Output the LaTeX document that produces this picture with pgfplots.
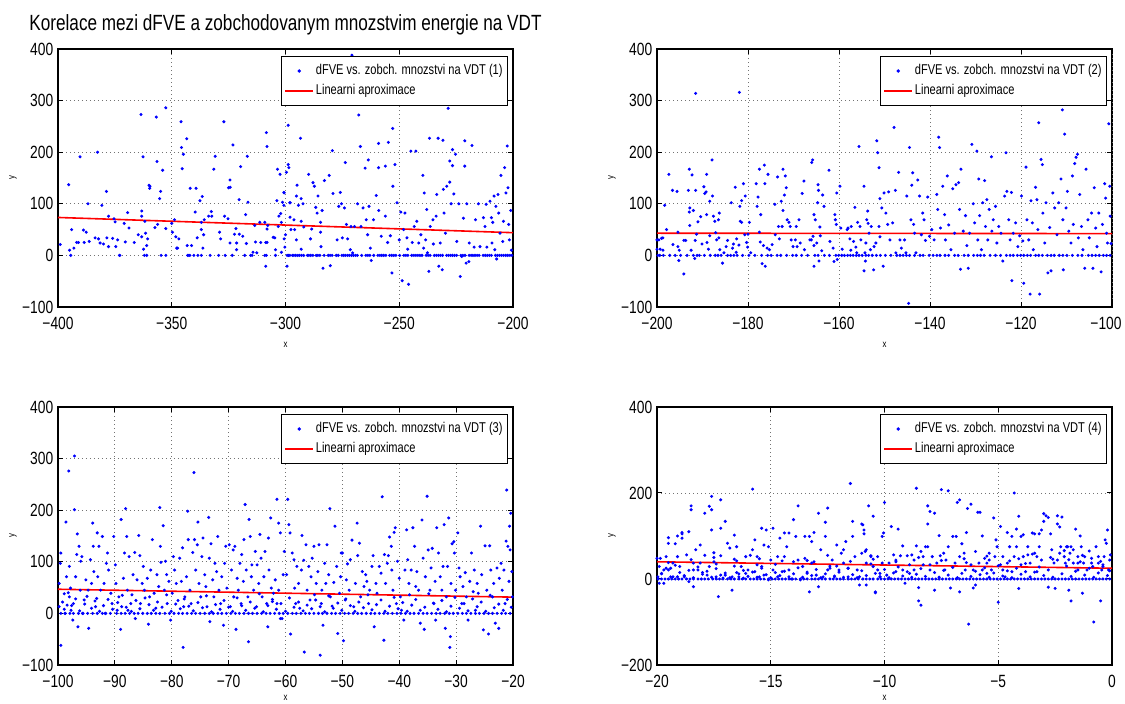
\documentclass[border=0pt]{standalone}
\usepackage{fontspec}
\setmainfont{Liberation Sans}[FakeStretch=0.78]
\usepackage{pgfplots}
\pgfplotsset{compat=1.18}

\pgfplotsset{
  every axis title shift=0pt,
  panel/.style={
    scale only axis, width=227.5pt, height=129pt,
    axis line style={line width=0.7pt},
    tick align=inside, major tick length=2.5pt,
    tick style={black, line width=0.5pt},
    grid=major,
    major grid style={black!55, line width=0.4pt, dash pattern=on 0.4pt off 1.6pt},
    ticklabel style={font=\fontsize{8.85}{10}\selectfont},
    xticklabel style={inner sep=0pt, anchor=north, yshift=-4.8pt},
    yticklabel style={inner sep=0pt, anchor=east, xshift=-2.2pt},
    label style={font=\fontsize{5}{6}\selectfont},
    xlabel={x}, ylabel={y},
    xlabel style={at={(rel axis cs:0.5,-0.147)}, anchor=center},
    ylabel style={at={(rel axis cs:-0.099,0.5)}, anchor=center},
    legend style={at={(0.989,0.973)}, anchor=north east, draw=black,
      line width=0.6pt, font=\fontsize{7.1}{8}\selectfont,
      inner xsep=1.5pt, inner ysep=3pt, row sep=1.6pt,
      nodes={inner sep=0.9pt}},
    legend cell align=left,
    legend image code/.code={\draw[mark repeat=2,mark phase=2,#1]
      plot coordinates {(0pt,0pt) (7pt,0pt) (14pt,0pt)};},
  },
  dots/.style={only marks, mark=*, mark size=0.55pt, color=blue},
  fitline/.style={color=red, line width=0.8pt, no marks},
}

\begin{document}
\begin{tikzpicture}
\path[use as bounding box] (0,0) rectangle (562.5pt,352pt);

% ---------- panel 1 ----------
\begin{axis}[panel, at={(29pt,198.5pt)}, anchor=south west,
  xmin=-400, xmax=-200, ymin=-100, ymax=400,
  xtick={-400,-350,-300,-250,-200}, xticklabels={−400,−350,−300,−250,−200},
  ytick={-100,0,100,200,300,400}, yticklabels={−100,0,100,200,300,400},
  title={Korelace mezi dFVE a zobchodovanym mnozstvim energie na VDT},
  title style={at={(0.5,1)}, anchor=base, yshift=9pt, inner sep=0pt,
    font=\fontsize{11}{13}\selectfont}]
\addplot[dots] coordinates {
(-399,21) (-395.3,137) (-394.9,10) (-394.4,0) (-394,50) (-393,14) (-391.8,25) (-391,25)
(-390.3,191) (-388.8,49) (-388.5,25) (-387.6,45) (-386.8,100) (-386.3,27) (-383.7,34)
(-382.6,200) (-382.2,32) (-381.5,24) (-380.7,97) (-380,22) (-378.7,124) (-378.5,34)
(-377.8,76) (-377.8,17) (-376,33) (-375.4,71) (-374.9,65) (-374.6,17) (-373.8,30)
(-373,0) (-372.8,0) (-370.9,62) (-370.4,26) (-369.4,83) (-368.8,53) (-366.5,25)
(-364.7,40) (-363.5,273) (-363.2,86) (-363.2,76) (-363.2,36) (-362.6,191) (-362.4,12)
(-362,0) (-361,0) (-361.8,66) (-361.5,43) (-361,19) (-360.6,32) (-360,136) (-359.7,130)
(-359.6,134) (-356.8,268) (-356.5,182) (-356.2,60) (-355.3,110) (-354.9,124) (-354.7,0)
(-354,165) (-357.4,54) (-352.6,286) (-352.6,52) (-352.6,0) (-350,62) (-349.7,45)
(-348.8,69) (-348.2,36) (-347.8,14) (-347.4,14) (-346.9,32) (-345.9,259) (-345.7,209)
(-345.4,168) (-344.9,196) (-343.4,226) (-343.2,19) (-343,0) (-342.5,0) (-342,0)
(-341.9,130) (-341.3,19) (-340.3,0) (-339.7,84) (-339.3,130) (-338.8,34) (-338.5,0)
(-337.6,106) (-337,50) (-337,64) (-336.6,114) (-336.3,14) (-336,40) (-335.7,69) (-337,0)
(-333.8,76) (-333.1,0) (-332.6,85) (-332.4,76) (-331.5,167) (-330.9,192) (-329,45)
(-328.5,32) (-329.4,0) (-327.1,259) (-326.8,76) (-326.5,0) (-325.3,71) (-325,131)
(-324.4,146) (-324.3,132) (-324.4,24) (-323.4,0) (-323.1,214) (-322.4,41) (-321.8,52)
(-321.5,11) (-321.5,24) (-320.4,108) (-320.3,41) (-319.7,172) (-318.8,37) (-317.9,0)
(-317.5,79) (-317.2,23) (-316.8,192) (-316.5,103) (-315.3,0) (-314.7,0) (-314.3,6)
(-313.5,58) (-313.2,26) (-312.6,5) (-311.3,64) (-310.9,25) (-309.1,64) (-308.7,25)
(-308.1,25) (-308.4,238) (-308.1,211) (-308.4,0) (-309.1,0) (-308.7,-21) (-308.1,51)
(-307.8,58) (-305.4,35) (-304.7,34) (-304.4,11) (-304.4,0) (-303.8,106) (-303.5,167)
(-303.2,56) (-302.9,76) (-302.4,157) (-302.1,81) (-301.8,64) (-301.3,103) (-300.7,97)
(-300.6,121) (-301.8,6) (-300.6,32) (-300.3,16) (-299.6,161) (-299.3,0) (-298.7,0)
(-298.1,0) (-299.3,-21) (-298.8,176) (-298.5,170) (-298.8,252) (-297.9,102) (-298,74)
(-297.6,50) (-300.7,122) (-300,40) (-298.1,102) (-296.3,69) (-296,50) (-295.2,30)
(-295.2,115) (-294.3,97) (-293.4,227) (-293.1,110) (-293.1,66) (-293.1,12) (-294.9,136)
(-292.3,100) (-292,55) (-289.8,157) (-289,32) (-288.5,51) (-287.9,141) (-287.3,134)
(-286.7,93) (-286.1,82) (-285.7,115) (-284.4,17) (-284.6,45) (-284.6,64) (-283.9,87)
(-283.5,-25) (-282.9,145) (-280.8,155) (-280.3,-20) (-279.4,203) (-279.1,120) (-277.3,30)
(-276.6,95) (-275.9,122) (-275.4,100) (-275,34) (-273.7,180) (-274.1,92) (-273.2,60)
(-272.7,32) (-271.5,11) (-270.8,388) (-271.2,56) (-270.5,5) (-269.7,56) (-267.8,272)
(-268.3,100) (-267.1,211) (-266.8,56) (-265.9,92) (-265,169) (-264.5,69) (-263.9,40)
(-263.6,185) (-263.3,95) (-262.7,14) (-262.3,-10) (-261.3,69) (-260.1,116) (-259.1,217)
(-259.1,170) (-259,87) (-257.9,37) (-256.1,173) (-256.1,76) (-255.1,25) (-254.8,219)
(-253.9,38) (-253.2,-34) (-252.9,246) (-252.8,134) (-251.9,176) (-251,102) (-250,30)
(-249.3,84) (-248.7,-49) (-248.1,50) (-247.5,82) (-246.6,34) (-246.3,12) (-245.9,-56)
(-244.9,202) (-244.3,25) (-243.4,56) (-242.7,202) (-242.3,66) (-241.4,24) (-240.5,40)
(-239.6,155) (-239.3,14) (-239,121) (-238.4,30) (-237.9,89) (-237.6,5) (-237,-31)
(-236.7,227) (-236.4,56) (-235.2,69) (-235,22) (-233.8,76) (-233.5,118) (-232.9,227)
(-232.6,-21) (-232,24) (-231.1,-28) (-230.8,223) (-230.6,128) (-230.3,82) (-229.7,43)
(-229.1,134) (-228.5,285) (-227.8,142) (-227.8,183) (-227.2,100) (-226.6,205) (-226.6,174)
(-226,119) (-225.3,196) (-224.7,27) (-223.8,100) (-223.2,-41) (-222.5,-2) (-221.8,72)
(-221.2,173) (-221.2,222) (-220.6,-15) (-220.3,100) (-219.4,-12) (-219.2,24) (-218,213)
(-217.1,16) (-216.5,69) (-215.2,100) (-214.5,17) (-213,73) (-211.8,99) (-212.3,56)
(-211.5,16) (-210.1,105) (-209.5,73) (-209.2,24) (-208.9,64) (-208.3,115) (-208,11)
(-207.5,95) (-207.2,-7) (-206.6,118) (-206.3,82) (-205.7,43) (-205.3,155) (-204.5,27)
(-204.2,66) (-203.7,170) (-203.1,121) (-202.5,212) (-202.2,131) (-201.9,60) (-201.6,30)
(-201,87) (-200.7,10)
(-297,0) (-296.3,0) (-295.5,0) (-294.6,0) (-293.8,0) (-292.9,0) (-292,0) (-290.4,0)
(-289.7,0) (-288.9,0) (-288,0) (-286.5,0) (-285.8,0) (-284.9,0) (-283,0) (-281.2,0)
(-280.4,0) (-279.5,0) (-277.7,0) (-276.8,0) (-275.2,0) (-274.4,0) (-273.6,0) (-272.7,0)
(-271.9,0) (-271,0) (-270.1,0) (-269.2,0) (-268.4,0) (-266.5,0) (-264.7,0) (-263.8,0)
(-262.9,0) (-261.2,0) (-259.4,0) (-258.5,0) (-257.7,0) (-256.8,0) (-255.9,0) (-254.2,0)
(-253.3,0) (-252.4,0) (-251.5,0) (-249.8,0) (-248,0) (-247.1,0) (-246.2,0) (-244.5,0)
(-243.6,0) (-242.7,0) (-241.8,0) (-240.9,0) (-240,0) (-238.2,0) (-237.3,0) (-236.4,0)
(-234.6,0) (-233.7,0) (-232.8,0) (-231.9,0) (-231,0) (-229.2,0) (-228.3,0) (-227.4,0)
(-226.6,0) (-225.7,0) (-224.8,0) (-222.9,0) (-222,0) (-221.1,0) (-219.3,0) (-218.4,0)
(-217.6,0) (-216.7,0) (-215.8,0) (-214.9,0) (-213.1,0) (-212.2,0) (-211.3,0) (-210.4,0)
(-209.5,0) (-207.7,0) (-206.8,0) (-205.9,0) (-205,0) (-204.1,0) (-203.2,0) (-202.3,0)
(-201.4,0) (-200.5,0)
};
\addplot[fitline] coordinates {(-400,73.5) (-200,44)};
\legend{dFVE vs. zobch. mnozstvi na VDT (1), Linearni aproximace}
\end{axis}

% ---------- panel 2 ----------
\begin{axis}[panel, at={(328.5pt,198.5pt)}, anchor=south west,
  xmin=-200, xmax=-100, ymin=-100, ymax=400,
  xtick={-200,-180,-160,-140,-120}, xticklabels={−200,−180,−160,−140,−120},
  extra x ticks={-100}, extra x tick labels={−100},
  extra x tick style={xticklabel style={xshift=-3pt}},
  ytick={-100,0,100,200,300,400}, yticklabels={−100,0,100,200,300,400}]
\addplot[dots] coordinates {
(-200.1,47) (-200,30) (-200,12) (-199.6,30) (-199.3,12) (-199,33) (-198.7,34) (-198.7,10)
(-198.3,97) (-197.9,50) (-197.4,157) (-196.6,126) (-196.5,21) (-195.6,124) (-195.4,45)
(-195.4,17) (-195.1,10) (-195.2,-10) (-194.1,-36) (-194.1,29) (-193.7,29) (-193.1,126)
(-192.9,167) (-192.9,84) (-192.8,92) (-192.8,58) (-192.5,10) (-192.3,156) (-192,87)
(-191.7,-6) (-191.6,29) (-191.5,314) (-191.5,126) (-191.3,41) (-191,65) (-190.4,75)
(-190.1,22) (-189.7,133) (-189.5,120) (-189.2,123) (-189.1,157) (-189.1,79) (-189,25)
(-188.7,12) (-188.4,105) (-188.4,38) (-187.9,185) (-187.8,115) (-187.6,76) (-187.3,66)
(-187.1,44) (-186.9,30) (-186.5,69) (-186.4,34) (-186.3,82) (-186.2,11) (-185.6,-15)
(-185.3,5) (-184.8,17) (-184.5,29) (-183.7,102) (-183.4,14) (-183.2,22) (-182.8,132)
(-182.6,6) (-182.5,32) (-182,20) (-181.9,316) (-181.8,95) (-181.7,66) (-181.4,106)
(-181.4,64) (-181,139) (-180.7,40) (-180.6,115) (-180.3,25) (-180.1,16) (-180,41)
(-179.7,64) (-179.4,5) (-178.2,139) (-178,95) (-177.8,113) (-177.5,45) (-177.5,167)
(-177.3,26) (-177.2,79) (-176.9,-16) (-176.6,19) (-176.4,175) (-176.3,139) (-176.2,-21)
(-175.8,14) (-175.6,157) (-175.3,11) (-174.7,21) (-174.1,99) (-174,40) (-173.5,152)
(-173.3,56) (-173.1,32) (-172.7,105) (-172.5,56) (-172.3,167) (-172.3,87) (-172,117)
(-171.8,154) (-171.6,131) (-171.4,69) (-171,64) (-170.7,56) (-170.5,30) (-170.1,17)
(-169.6,30) (-169.4,56) (-169.2,17) (-168.8,69) (-168.5,24) (-168.1,120) (-167.7,144)
(-167.6,11) (-166.4,30) (-166.1,30) (-166,180) (-165.8,185) (-165.7,37) (-165.5,79)
(-165.5,19) (-165.5,-21) (-165.2,69) (-164.9,24) (-164.7,102) (-164.6,137) (-164.5,126)
(-164.4,-11) (-164.2,55) (-164.1,38) (-163.8,9) (-163.6,117) (-163.3,95) (-162.2,165)
(-162,27) (-161.3,14) (-161.1,-12) (-160.9,79) (-160.8,69) (-160.6,60) (-160.5,121)
(-160.4,-8) (-159.8,134) (-159.6,53) (-159.3,12) (-158.2,50) (-158,53) (-157.6,32)
(-157.4,10) (-157.3,56) (-156.8,27) (-156.5,93) (-156.3,16) (-156.1,5) (-155.9,64)
(-155.6,211) (-155.4,56) (-155.2,30) (-154.5,134) (-154.3,5) (-154.2,-11) (-154.1,24)
(-153.9,69) (-153.7,86) (-153.6,62) (-153.4,43) (-153.1,11) (-152.9,56) (-152.4,-28)
(-152.3,17) (-151.9,24) (-151.7,222) (-151.5,199) (-151.2,170) (-151,110) (-151.2,56)
(-154.5,-30) (-151,36) (-150.6,92) (-150.3,-21) (-150.1,121) (-149.7,82) (-149.3,60)
(-149.1,123) (-148.8,30) (-148.2,63) (-147.9,248) (-147.6,126) (-147.5,5) (-146.9,161)
(-146.6,30) (-146.3,14) (-145.6,30) (-145.3,5) (-145.1,115) (-144.7,-93) (-144.5,209)
(-144.2,69) (-144,136) (-143.8,160) (-143.6,60) (-143.4,43) (-143.1,5) (-142.7,146)
(-142.3,115) (-141.9,40) (-141.6,82) (-141.3,69) (-141,29) (-140.5,113) (-140.1,37)
(-139.6,50) (-139.1,30) (-138.5,118) (-138.3,89) (-138.1,229) (-137.9,209) (-137.7,53)
(-137.2,134) (-136.8,79) (-136.6,30) (-136.2,154) (-135.9,59) (-135.4,11) (-135,129)
(-134.6,43) (-134.3,137) (-133.7,141) (-133.5,89) (-133.3,-27) (-133.2,167) (-132.7,47)
(-132.2,77) (-131.9,19) (-131.6,-25) (-131.3,43) (-130.8,215) (-130.5,100) (-130.2,63)
(-129.7,202) (-129.5,30) (-129.3,148) (-129.1,77) (-128.7,11) (-128.4,102) (-128,145)
(-127.8,56) (-127.5,108) (-127.3,30) (-127,89) (-126.5,191) (-126.4,47) (-126.1,69)
(-125.6,95) (-125.3,24) (-124.9,56) (-124.4,43) (-124,-11) (-123.6,115) (-123.3,199)
(-123.1,124) (-122.7,69) (-122.4,30) (-122.1,122) (-122,-49) (-121.7,43) (-121.2,63)
(-120.7,17) (-120.3,38) (-119.9,115) (-119.6,28) (-119.4,-54) (-118.9,171) (-118.7,69)
(-118.3,30) (-118,-75) (-117.8,106) (-117.5,63) (-117.3,11) (-116.8,132) (-116.5,108)
(-116.3,50) (-116.1,257) (-115.9,-75) (-115.6,186) (-115.3,176) (-115.2,82) (-114.8,24)
(-114.5,102) (-114.1,-34) (-113.7,54) (-113.4,-30) (-113,121) (-112.6,92) (-112.1,40)
(-111.7,102) (-111.2,148) (-110.9,282) (-110.8,69) (-110.7,-28) (-110.4,235) (-110.1,92)
(-109.8,124) (-109.5,47) (-109,24) (-108.7,154) (-108.5,60) (-108.2,178) (-107.9,190)
(-107.6,196) (-107.4,34) (-107.1,118) (-106.7,56) (-106.4,11) (-106,-25) (-105.7,167)
(-105.3,69) (-105,34) (-104.5,82) (-104.2,-25) (-103.9,131) (-103.6,53) (-103.3,17)
(-102.9,82) (-102.4,-32) (-102.1,60) (-101.6,139) (-101.4,111) (-101.2,43) (-101,24)
(-100.7,255) (-100.5,134) (-100.4,76) (-100.2,23)
(-199.8,0) (-199.4,0) (-198.6,0) (-197.2,0) (-196,0) (-194.8,0) (-193.4,0) (-192,0)
(-191.2,0) (-190.7,0) (-189.6,0) (-188.3,0) (-187.2,0) (-186.6,0) (-185.9,0) (-184.5,0)
(-183.8,0) (-183.1,0) (-182.4,0) (-181.2,0) (-179.8,0) (-178.5,0) (-177,0) (-175.7,0)
(-174.9,0) (-173.6,0) (-172.8,0) (-171.5,0) (-170.2,0) (-169.4,0) (-168.2,0) (-166.9,0)
(-165.3,0) (-164.6,0) (-163.2,0) (-162.1,0) (-160.7,0) (-160.1,0) (-159.4,0) (-158.8,0)
(-158.1,0) (-157.5,0) (-156.9,0) (-156.2,0) (-155.6,0) (-154.9,0) (-154.1,0) (-153.5,0)
(-152.7,0) (-151.8,0) (-150.9,0) (-149.8,0) (-148.6,0) (-147.3,0) (-146.6,0) (-145.9,0)
(-145.2,0) (-144.5,0) (-143.4,0) (-142.2,0) (-141.5,0) (-140.2,0) (-139.3,0) (-138.5,0)
(-137.8,0) (-136.7,0) (-135.9,0) (-134.6,0) (-133.8,0) (-132.5,0) (-131.6,0) (-130.4,0)
(-129.6,0) (-128.9,0) (-128.1,0) (-126.8,0) (-125.6,0) (-124.5,0) (-123.2,0) (-122.4,0)
(-121.7,0) (-120.8,0) (-120.1,0) (-119.4,0) (-118.6,0) (-117.9,0) (-116.8,0) (-116.1,0)
(-115.3,0) (-114.2,0) (-113.4,0) (-112.7,0) (-111.6,0) (-110.8,0) (-109.9,0) (-108.7,0)
(-107.5,0) (-106.6,0) (-105.2,0) (-104.4,0) (-103.6,0) (-102.8,0) (-101.9,0) (-101.2,0)
(-100.4,0)
};
\addplot[fitline] coordinates {(-200,43) (-100,42.2)};
\legend{dFVE vs. zobch. mnozstvi na VDT (2), Linearni aproximace}
\end{axis}

% ---------- panel 3 ----------
\begin{axis}[panel, at={(29pt,19.5pt)}, anchor=south west,
  xmin=-100, xmax=-20, ymin=-100, ymax=400,
  xtick={-100,-90,-80,-70,-60,-50,-40,-30,-20},
  xticklabels={−100,−90,−80,−70,−60,−50,−40,−30,−20},
  ytick={-100,0,100,200,300,400}, yticklabels={−100,0,100,200,300,400},
  xlabel style={at={(rel axis cs:0.5,-0.128)}}]
\addplot[dots] coordinates {
(-99.6,97) (-99.5,-62) (-99.8,58) (-99.8,13) (-99.5,117) (-98.9,38) (-98.8,0) (-98.6,177)
(-98.5,71) (-98.4,16) (-98.1,276) (-98,91) (-98,32) (-97.8,49) (-97.7,6) (-97.4,-13)
(-97.3,19) (-97.1,305) (-97.1,201) (-96.9,71) (-96.7,114) (-96.6,154) (-96.5,-26)
(-96.3,130) (-96.1,45) (-96,101) (-95.8,110) (-95.7,0) (-95.4,26) (-95.1,65) (-94.7,45)
(-94.6,-29) (-94.3,104) (-94.1,58) (-93.9,175) (-93.8,130) (-93.7,81) (-93.4,13)
(-93.2,29) (-93.1,156) (-93,71) (-92.8,130) (-92.5,45) (-92.2,149) (-91.9,58) (-91.7,0)
(-91.5,97) (-91.3,117) (-91.1,84) (-90.7,39) (-90.5,19) (-90.2,149) (-89.9,94) (-89.8,58)
(-89.6,6) (-89.3,32) (-89,-31) (-88.9,182) (-88.8,13) (-88.5,68) (-88.3,117) (-88.1,203)
(-87.9,149) (-87.8,45) (-87.7,6) (-87.5,110) (-87.2,19) (-87,36) (-86.8,75) (-86.5,118)
(-86.4,-10) (-86.1,65) (-85.8,151) (-85.6,112) (-85.5,19) (-85.2,58) (-85,91) (-84.8,45)
(-84.3,68) (-84.1,-21) (-83.9,32) (-83.7,84) (-83.4,143) (-83.1,39) (-82.8,10) (-82.6,75)
(-82.3,52) (-82.1,205) (-82,130) (-81.9,99) (-81.5,170) (-81.3,45) (-81.1,101) (-80.9,75)
(-80.8,19) (-80.5,62) (-80.2,-13) (-79.9,39) (-79.7,110) (-79.5,84) (-79.2,58) (-78.9,25)
(-78.6,107) (-78.3,62) (-78.1,127) (-78,-66) (-77.9,13) (-77.7,32) (-77.4,71) (-77.2,198)
(-77.1,143) (-76.8,45) (-76.6,19) (-76.3,118) (-76.1,273) (-76,143) (-75.8,84) (-75.5,133)
(-75.4,177) (-75.2,58) (-74.9,32) (-74.7,110) (-74.5,146) (-74.2,75) (-74,52) (-73.8,13)
(-73.5,186) (-73.4,107) (-73.3,-16) (-73.1,135) (-72.8,65) (-72.6,32) (-72.4,97) (-72.1,81)
(-71.9,149) (-71.7,45) (-71.4,19) (-71.2,71) (-70.9,-23) (-70.7,97) (-70.5,130) (-70.3,49)
(-69.9,133) (-69.7,13) (-69.5,84) (-69.2,123) (-69.1,32) (-68.9,130) (-68.7,-31) (-68.5,68)
(-68.3,45) (-68,97) (-67.8,19) (-67.7,114) (-67.4,62) (-67.3,143) (-67.1,211) (-66.9,84)
(-66.6,32) (-66.5,-55) (-66.4,182) (-66.2,149) (-66,71) (-65.9,94) (-65.6,45) (-65.3,120)
(-65.1,13) (-65,94) (-64.7,58) (-64.5,153) (-64.3,107) (-64.1,32) (-63.8,71) (-63.6,120)
(-63.3,19) (-63.1,-26) (-63,146) (-62.9,84) (-62.6,185) (-62.5,49) (-62.3,23) (-62.1,39)
(-61.8,65) (-61.5,19) (-61.2,45) (-60.9,-10) (-60.6,-10) (-60.4,75) (-60.2,120)
(-61.5,221) (-61.2,175) (-60.9,156) (-59.8,75) (-59.6,221) (-59.4,172) (-59.2,156)
(-59.1,-40) (-58.8,117) (-58.5,104) (-58.4,49) (-58.2,19) (-58,91) (-57.7,58) (-57.5,10)
(-57.2,84) (-57.1,151) (-56.8,103) (-56.7,-75) (-56.4,133) (-56.2,45) (-55.9,91)
(-55.7,26) (-55.5,71) (-55.3,107) (-55,130) (-54.9,36) (-54.6,58) (-54.3,81) (-54.1,133)
(-53.9,-81) (-53.7,19) (-53.6,45) (-53.4,-23) (-53.1,97) (-52.9,58) (-52.7,133) (-52.4,75)
(-52.2,203) (-52.1,32) (-51.8,14) (-51.5,60) (-51.3,169) (-51,91) (-50.8,-39) (-50.5,39)
(-50.3,71) (-50.2,117) (-50,117) (-49.8,-53) (-49.5,26) (-49.3,65) (-49.1,96) (-48.8,45)
(-48.6,104) (-48.3,142) (-48,13) (-47.7,58) (-47.4,175) (-47.3,112) (-47,136) (-46.8,32)
(-46.5,81) (-46.2,52) (-45.9,75) (-45.7,62) (-45.4,19) (-45.2,45) (-44.8,91) (-44.6,112)
(-44.4,-26) (-44.1,58) (-43.9,39) (-43.5,91) (-43.2,78) (-43,226) (-42.7,-52) (-42.6,114)
(-42.4,58) (-42.1,97) (-41.9,112) (-41.7,148) (-41.4,130) (-41.3,84) (-41.1,45) (-40.9,157)
(-40.7,166) (-40.5,19) (-40.3,101) (-40,68) (-39.8,32) (-39.6,6) (-39.2,-13) (-39,84)
(-38.7,162) (-38.5,104) (-38.3,58) (-38.2,36) (-37.9,84) (-37.6,166) (-37.3,130) (-37.1,52)
(-36.9,81) (-36.6,45) (-36.3,-19) (-36,181) (-35.8,107) (-35.6,-31) (-35.4,71) (-35.1,227)
(-34.9,123) (-34.6,45) (-34.4,88) (-34.2,126) (-33.9,19) (-33.7,62) (-33.6,-13) (-33.4,166)
(-33.1,117) (-32.8,71) (-32.5,45) (-32.3,91) (-32.1,172) (-31.9,-29) (-31.7,32) (-31.5,91)
(-31.3,185) (-31.1,-66) (-31,-45) (-30.9,58) (-30.7,135) (-30.4,139) (-30.3,117) (-30.1,45)
(-29.7,156) (-29.5,88) (-29.3,71) (-29,19) (-28.8,52) (-28.4,79) (-28.2,32) (-27.9,-13)
(-27.6,62) (-27.3,117) (-27,42) (-26.8,84) (-26.6,6) (-26.3,58) (-26.1,39) (-25.7,169)
(-25.5,75) (-25.2,-32) (-24.9,131) (-24.6,45) (-24.3,-40) (-24.1,131) (-23.9,84) (-23.6,32)
(-23.4,58) (-23.1,-19) (-22.8,88) (-22.5,-29) (-22.4,68) (-22.1,97) (-21.9,45) (-21.6,84)
(-21.4,19) (-21.2,140) (-21.1,239) (-20.9,130) (-20.7,62) (-20.6,169) (-20.5,123) (-20.4,194)
(-20.2,81) (-20.1,32) (-21.2,-101)
(-99.2,22) (-98.9,8) (-98.2,40) (-97.6,15) (-96.9,28) (-96.2,5) (-95.3,18) (-94.9,33)
(-94.1,10) (-93.5,24) (-92.7,4) (-92,15) (-91.2,27) (-90.4,8) (-89.5,21) (-88.7,35) (-88,12)
(-87.1,4) (-86.3,25) (-85.6,9) (-84.7,30) (-84,17) (-83.2,6) (-82.5,22) (-81.7,12) (-80.9,36)
(-80.1,4) (-79.3,18) (-78.5,9) (-77.8,28) (-77,14) (-76.2,5) (-75.4,21) (-74.6,11) (-73.9,34)
(-73,3) (-72.3,17) (-71.5,8) (-70.8,25) (-70,12) (-69.3,4) (-68.5,30) (-67.7,15) (-67,6)
(-66.2,22) (-65.4,10) (-64.6,38) (-63.9,3) (-63.1,15) (-62.3,27) (-61.6,8) (-60.8,19) (-60,4)
(-59.3,30) (-58.5,12) (-57.7,22) (-56.9,5) (-56.2,16) (-55.4,9) (-54.7,26) (-53.9,13)
(-53.1,3) (-52.4,34) (-51.6,10) (-50.8,20) (-50.1,6) (-49.4,28) (-48.6,15) (-47.8,4)
(-47.1,22) (-46.3,11) (-45.5,36) (-44.8,7) (-44,17) (-43.2,26) (-42.5,4) (-41.7,14)
(-40.9,31) (-40.2,9) (-39.4,21) (-38.6,4) (-37.8,16) (-37.1,27) (-36.3,6) (-35.5,12)
(-34.8,38) (-34,20) (-33.2,8) (-32.5,25) (-31.7,3) (-30.9,14) (-30.2,31) (-29.4,10)
(-28.6,19) (-27.9,5) (-27.1,28) (-26.3,13) (-25.6,22) (-24.8,4) (-24,35) (-23.3,11)
(-22.5,18) (-21.7,6) (-21,27) (-20.3,12)
(-99.5,0) (-98.7,0) (-97.9,0) (-97.3,0) (-96.4,0) (-95.6,0) (-94.8,0) (-93.9,0) (-93.1,0)
(-92.2,0) (-91.6,0) (-90.8,0) (-89.7,0) (-88.9,0) (-88.2,0) (-87.4,0) (-86.6,0) (-85.9,0)
(-85.1,0) (-84.3,0) (-83.6,0) (-82.8,0) (-82.1,0) (-81.2,0) (-80.4,0) (-79.6,0) (-78.8,0)
(-78.1,0) (-77.3,0) (-76.5,0) (-75.8,0) (-75,0) (-74.2,0) (-73.4,0) (-72.7,0) (-71.9,0)
(-71.2,0) (-70.4,0) (-69.6,0) (-68.8,0) (-68.1,0) (-67.3,0) (-66.5,0) (-65.8,0) (-65,0)
(-64.2,0) (-63.4,0) (-62.7,0) (-61.9,0) (-61.1,0) (-60.4,0) (-59.6,0) (-58.8,0) (-58.1,0)
(-57.3,0) (-56.5,0) (-55.8,0) (-55,0) (-54.2,0) (-53.5,0) (-52.7,0) (-51.9,0) (-51.2,0)
(-50.4,0) (-49.6,0) (-48.9,0) (-48.1,0) (-47.3,0) (-46.6,0) (-45.8,0) (-45,0) (-44.3,0)
(-43.5,0) (-42.7,0) (-42,0) (-41.2,0) (-40.4,0) (-39.7,0) (-38.9,0) (-38.1,0) (-37.4,0)
(-36.6,0) (-35.8,0) (-35.1,0) (-34.3,0) (-33.5,0) (-32.8,0) (-32,0) (-31.2,0) (-30.5,0)
(-29.7,0) (-28.9,0) (-28.2,0) (-27.4,0) (-26.6,0) (-25.9,0) (-25.1,0) (-24.3,0) (-23.6,0)
(-22.8,0) (-22,0) (-21.3,0) (-20.5,0)
};
\addplot[fitline] coordinates {(-100,46.8) (-20,31.5)};
\legend{dFVE vs. zobch. mnozstvi na VDT (3), Linearni aproximace}
\end{axis}

% ---------- panel 4 ----------
\begin{axis}[panel, at={(328.5pt,19.5pt)}, anchor=south west,
  xmin=-20, xmax=0, ymin=-200, ymax=400,
  xtick={-20,-15,-10,-5,0}, xticklabels={−20,−15,−10,−5,0},
  ytick={-200,0,200,400}, yticklabels={−200,0,200,400},
  xlabel style={at={(rel axis cs:0.5,-0.128)}}]
\addplot[dots] coordinates {
(-20,48) (-19.96,5) (-19.9,29) (-19.9,-10) (-19.85,48) (-19.8,13) (-19.7,-10) (-19.7,21)
(-19.6,52) (-19.5,96) (-19.5,83) (-19.5,21) (-19.4,25) (-19.3,5) (-19.3,37) (-19.2,82)
(-19.1,52) (-19.1,100) (-19.1,5) (-19,29) (-18.9,105) (-18.9,108) (-18.9,95) (-18.8,5)
(-18.7,56) (-18.6,110) (-18.6,-6) (-18.5,170) (-18.5,161) (-18.4,21) (-18.4,-18) (-18.4,37)
(-18.3,68) (-18.2,21) (-18.1,79) (-18.1,37) (-18,15) (-17.9,153) (-17.9,55) (-17.8,9)
(-17.7,29) (-17.7,169) (-17.6,161) (-17.6,114) (-17.6,192) (-17.5,61) (-17.5,40) (-17.4,5)
(-17.4,35) (-17.3,-41) (-17.2,118) (-17.2,184) (-17.2,54) (-17.1,2) (-17,134) (-17,9)
(-16.9,83) (-16.8,72) (-16.7,5) (-16.7,-26) (-16.6,102) (-16.6,46) (-16.5,15) (-16.5,75)
(-16.4,5) (-16.3,29) (-16.2,2) (-16.1,13) (-16.1,52) (-16,21) (-15.9,55) (-15.8,209)
(-15.8,68) (-15.7,17) (-15.7,91) (-15.6,33) (-15.6,52) (-15.5,5) (-15.4,118) (-15.4,29)
(-15.3,79) (-15.3,9) (-15.2,114) (-15.1,75) (-15.1,-2) (-15,44) (-14.9,21) (-14.9,118)
(-14.8,15) (-14.7,52) (-14.7,5) (-14.6,95) (-14.5,17) (-14.4,107) (-14.4,52) (-14.3,75)
(-14.2,107) (-14.2,21) (-14.1,0) (-14,138) (-14,40) (-13.9,99) (-13.8,170) (-13.8,44)
(-13.7,-2) (-13.6,29) (-13.5,99) (-13.4,13) (-13.4,43) (-13.3,99) (-13.3,-30) (-13.2,87)
(-13.2,37) (-13.1,40) (-13.1,108) (-13,9) (-12.9,-18) (-12.9,153) (-12.8,68) (-12.7,5)
(-12.6,99) (-12.6,132) (-12.5,165) (-12.5,21) (-12.4,25) (-12.3,44) (-12.2,5) (-12.1,79)
(-12.1,30) (-12,21) (-11.9,60) (-11.8,68) (-11.8,37) (-11.7,87) (-11.6,25) (-11.6,5)
(-11.5,222) (-11.4,99) (-11.4,134) (-11.3,52) (-11.2,21) (-11.1,5) (-11.1,-14) (-11,60)
(-11,128) (-10.9,114) (-10.9,105) (-10.8,-14) (-10.8,68) (-10.7,170) (-10.6,52)
(-10.5,146) (-10.5,29) (-10.4,-30) (-10.3,21) (-10.3,52) (-10.2,5) (-10.1,37)
(-10.95,126) (-10.85,64) (-10.8,37) (-10.6,54) (-10.4,-32) (-10.2,13) (-10.1,99)
(-10.04,107) (-10,178) (-9.9,9) (-9.8,37) (-9.7,122) (-9.6,56) (-9.5,17) (-9.5,44)
(-9.4,116) (-9.3,54) (-9.2,21) (-9.2,77) (-9.1,-10) (-9,54) (-8.9,33) (-8.9,13) (-8.8,56)
(-8.7,21) (-8.7,44) (-8.6,211) (-8.6,77) (-8.5,-20) (-8.5,-51) (-8.4,-61) (-8.4,64)
(-8.3,33) (-8.3,52) (-8.2,75) (-8.1,75) (-8.1,128) (-8.1,170) (-8,21) (-8,157) (-7.9,52)
(-7.8,-26) (-7.8,153) (-7.7,37) (-7.6,101) (-7.55,54) (-7.5,208) (-7.4,60) (-7.35,21)
(-7.3,44) (-7.2,205) (-7.2,75) (-7.1,-21) (-7,99) (-6.9,37) (-6.85,99) (-6.8,178) (-6.7,52)
(-6.7,184) (-6.7,-30) (-6.6,82) (-6.5,60) (-6.45,21) (-6.4,108) (-6.35,164) (-6.3,-105)
(-6.2,33) (-6.2,174) (-6.1,21) (-6.1,-21) (-6,-14) (-6,64) (-5.9,155) (-5.85,37)
(-5.8,155) (-5.7,21) (-5.7,100) (-5.6,48) (-5.5,37) (-5.5,13) (-5.4,60) (-5.4,44)
(-5.3,21) (-5.2,142) (-5.15,52) (-5.1,91) (-5.05,75) (-5,-54) (-4.9,33) (-4.9,122)
(-4.8,21) (-4.8,52) (-4.7,5) (-4.6,108) (-4.6,37) (-4.5,75) (-4.4,17) (-4.4,99) (-4.3,52)
(-4.3,200) (-4.2,75) (-4.2,116) (-4.1,146) (-4.1,-22) (-4,33) (-4,99) (-3.9,52) (-3.9,103)
(-3.8,17) (-3.7,75) (-3.7,56) (-3.6,37) (-3.5,107) (-3.4,60) (-3.4,105) (-3.3,17) (-3.3,52)
(-3.2,75) (-3.2,105) (-3.1,114) (-3,134) (-3,152) (-2.9,147) (-2.8,143) (-2.8,-19)
(-2.7,105) (-2.65,68) (-2.6,46) (-2.55,37) (-2.5,-22) (-2.4,128) (-2.4,147) (-2.3,121)
(-2.25,75) (-2.2,144) (-2.1,66) (-2.05,37) (-2,75) (-1.95,75) (-1.9,-26) (-1.85,60)
(-1.8,75) (-1.8,-51) (-1.7,37) (-1.6,116) (-1.5,21) (-1.5,52) (-1.4,100) (-1.35,75)
(-1.3,-33) (-1.25,37) (-1.2,52) (-1.1,21) (-1,65) (-0.9,37) (-0.85,29) (-0.8,-100)
(-0.7,75) (-0.6,37) (-0.6,52) (-0.5,-51) (-0.45,21) (-0.4,29) (-0.35,52) (-0.3,91)
(-0.25,83) (-0.2,114) (-0.15,21) (-0.1,44) (-0.07,56)
(-19.8,12) (-19.6,25) (-19.4,5) (-19.2,32) (-19,15) (-18.8,8) (-18.6,20) (-18.4,3)
(-18.2,28) (-18,11) (-17.8,18) (-17.6,4) (-17.4,24) (-17.2,9) (-17,14) (-16.8,3)
(-16.6,30) (-16.4,12) (-16.2,20) (-16,6) (-15.8,16) (-15.6,4) (-15.4,25) (-15.2,10)
(-15,3) (-14.8,34) (-14.6,8) (-14.4,18) (-14.2,5) (-14,12) (-13.8,26) (-13.6,4) (-13.4,16)
(-13.2,8) (-13,22) (-12.8,3) (-12.6,12) (-12.4,30) (-12.2,7) (-12,16) (-11.8,4) (-11.6,25)
(-11.4,10) (-11.2,3) (-11,19) (-10.8,8) (-10.6,35) (-10.4,13) (-10.2,5) (-10,22) (-9.8,3)
(-9.6,14) (-9.4,28) (-9.2,7) (-9,17) (-8.8,4) (-8.6,11) (-8.4,24) (-8.2,6) (-8,33)
(-7.8,15) (-7.6,4) (-7.4,20) (-7.2,9) (-7,27) (-6.8,3) (-6.6,13) (-6.4,38) (-6.2,6) (-6,18)
(-5.8,10) (-5.6,26) (-5.4,4) (-5.2,14) (-5,31) (-4.8,7) (-4.6,19) (-4.4,3) (-4.2,25)
(-4,11) (-3.8,36) (-3.6,5) (-3.4,16) (-3.2,28) (-3,8) (-2.8,21) (-2.6,4) (-2.4,44)
(-2.2,12) (-2,30) (-1.8,6) (-1.6,18) (-1.4,40) (-1.2,9) (-1,25) (-0.8,4) (-0.6,14)
(-0.4,33) (-0.2,8) (-0.1,19) (-2.3,60) (-2.1,52) (-1.9,45) (-1.7,68) (-1.5,37) (-1.3,55)
(-0.9,48) (-0.5,41) (-2.7,50) (-3.1,44) (-3.5,58) (-4.1,47) (-4.5,42) (-5.5,53) (-6.5,47)
(-7.5,43) (-8.5,50) (-9.5,40) (-10.5,46) (-11.5,41) (-12.5,55) (-13.5,48) (-14.5,42)
(-15.5,47) (-16.5,42) (-17.5,50) (-18.5,45) (-19.5,38)
(-19.95,0) (-19.8,0) (-19.65,0) (-19.5,0) (-19.35,0) (-19.2,0) (-19.05,0) (-18.9,0)
(-18.7,0) (-18.55,0) (-18.4,0) (-18.2,0) (-18.05,0) (-17.9,0) (-17.75,0) (-17.55,0)
(-17.4,0) (-17.25,0) (-17.1,0) (-16.9,0) (-16.75,0) (-16.6,0) (-16.4,0) (-16.25,0)
(-16.1,0) (-15.9,0) (-15.75,0) (-15.6,0) (-15.45,0) (-15.3,0) (-15.1,0) (-14.95,0)
(-14.8,0) (-14.65,0) (-14.5,0) (-14.35,0) (-14.2,0) (-14.05,0) (-13.9,0) (-13.7,0)
(-13.55,0) (-13.4,0) (-13.2,0) (-13.05,0) (-12.9,0) (-12.75,0) (-12.6,0) (-12.4,0)
(-12.25,0) (-12.1,0) (-11.95,0) (-11.8,0) (-11.6,0) (-11.45,0) (-11.3,0) (-11.15,0)
(-10.95,0) (-10.8,0) (-10.65,0) (-10.5,0) (-10.3,0) (-10.15,0) (-10,0) (-9.85,0)
(-9.7,0) (-9.55,0) (-9.4,0) (-9.25,0) (-9.1,0) (-8.95,0) (-8.8,0) (-8.65,0) (-8.5,0)
(-8.35,0) (-8.2,0) (-8.05,0) (-7.9,0) (-7.75,0) (-7.6,0) (-7.45,0) (-7.3,0) (-7.15,0)
(-7,0) (-6.85,0) (-6.7,0) (-6.55,0) (-6.4,0) (-6.25,0) (-6.1,0) (-5.95,0) (-5.8,0)
(-5.65,0) (-5.5,0) (-5.35,0) (-5.2,0) (-5.05,0) (-4.9,0) (-4.75,0) (-4.6,0) (-4.45,0)
(-4.3,0) (-4.15,0) (-4,0) (-3.85,0) (-3.7,0) (-3.55,0) (-3.4,0) (-3.25,0) (-3.1,0)
(-2.95,0) (-2.8,0) (-2.65,0) (-2.5,0) (-2.35,0) (-2.2,0) (-2.05,0) (-1.9,0) (-1.75,0)
(-1.6,0) (-1.45,0) (-1.3,0) (-1.15,0) (-1,0) (-0.85,0) (-0.7,0) (-0.55,0) (-0.4,0)
(-0.25,0) (-0.1,0)
};
\addplot[fitline] coordinates {(-20,40) (0,25)};
\legend{dFVE vs. zobch. mnozstvi na VDT (4), Linearni aproximace}
\end{axis}
\end{tikzpicture}
\end{document}
